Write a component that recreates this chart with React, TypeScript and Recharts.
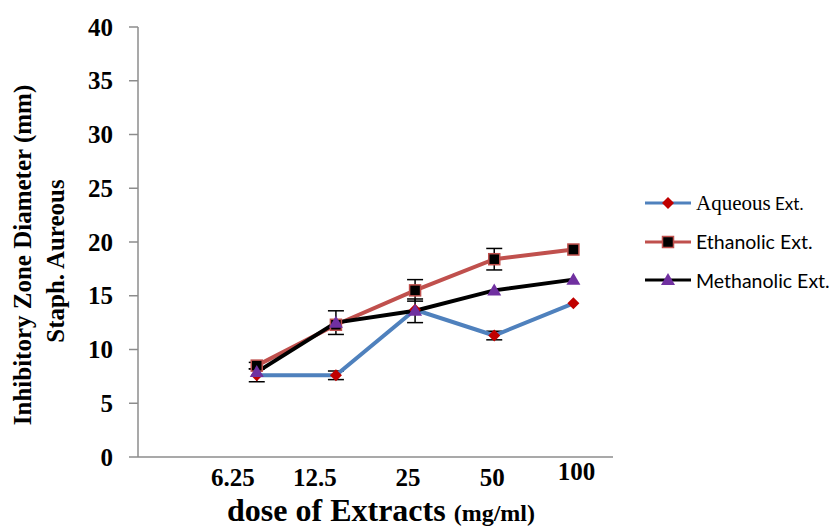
import React from "react";
import { LineChart, Line, XAxis, YAxis, ErrorBar } from "recharts";

const doses = ["", "6.25", "12.5", "25", "50", "100"];
const aqueous = [null, 7.6, 7.6, 13.7, 11.3, 14.3];
const aqueousErr = [null, 0.6, 0.4, null, 0.4, null];
const ethanolic = [null, 8.5, 12.3, 15.5, 18.4, 19.3];
const ethanolicErr = [null, 0.3, null, 1.0, 1.0, null];
const methanolic = [null, 7.9, 12.5, 13.6, 15.5, 16.5];
const methanolicErr = [null, null, 1.1, 1.1, null, null];
const yTicks = [0, 5, 10, 15, 20, 25, 30, 35, 40];

const data = doses.map((d, i) => ({
  dose: d,
  aq: aqueous[i],
  aqErr: aqueousErr[i],
  et: ethanolic[i],
  etErr: ethanolicErr[i],
  me: methanolic[i],
  meErr: methanolicErr[i],
}));

const SERIF = "'Liberation Serif', 'Times New Roman', serif";
const SANS = "Lato, 'Open Sans', sans-serif";

const Diamond = (p: any) => {
  const { cx, cy, value, index } = p;
  if (value == null || cx == null) return <g key={`d${index}`} />;
  return (
    <path key={`d${index}`} d={`M${cx},${cy - 6} L${cx + 6},${cy} L${cx},${cy + 6} L${cx - 6},${cy} Z`} fill="#C00000" />
  );
};
const Square = (p: any) => {
  const { cx, cy, value, index } = p;
  if (value == null || cx == null) return <g key={`s${index}`} />;
  return <rect key={`s${index}`} x={cx - 5.5} y={cy - 5.5} width={11} height={11} fill="#000" stroke="#C0504D" strokeWidth={1.5} />;
};
const Triangle = (p: any) => {
  const { cx, cy, value, index } = p;
  if (value == null || cx == null) return <g key={`t${index}`} />;
  return <path key={`t${index}`} d={`M${cx},${cy - 7} L${cx + 7},${cy + 5} L${cx - 7},${cy + 5} Z`} fill="#7030A0" />;
};

const tickNudge = [0, -24, -21, -7, -2, 3];
const tickLift = [0, 0, 0, 0, 0, -6];

const XTick = (p: any) => {
  const { x, y, payload, index } = p;
  return (
    <text x={x + (tickNudge[index] || 0)} y={y + (tickLift[index] || 0)} dy={21} textAnchor="middle" fontFamily={SERIF} fontWeight="bold" fontSize={25} fill="#000">
      {payload.value}
    </text>
  );
};

const YTick = (p: any) => {
  const { x, y, payload } = p;
  return (
    <text x={x - 14} y={y} dy={8.5} textAnchor="end" fontFamily={SERIF} fontWeight="bold" fontSize={25} fill="#000">
      {payload.value}
    </text>
  );
};

const YTitle = () => (
  <g fontFamily={SERIF} fontWeight="bold" fontSize={25} fill="#000">
    <text x={31} y={255} textAnchor="middle" transform="rotate(-90 31 255)">
      Inhibitory Zone Diameter (mm)
    </text>
    <text x={64} y={261} textAnchor="middle" transform="rotate(-90 64 261)">
      Staph. Aureous
    </text>
  </g>
);

const XTitle = () => (
  <text x={381} y={521} textAnchor="middle" fontFamily={SERIF} fontWeight="bold" fill="#000">
    <tspan fontSize={32}>dose of Extracts </tspan>
    <tspan fontSize={24}>(mg/ml)</tspan>
  </text>
);

const legendItems = [
  { name: "Aqueous", suffix: " Ext.", color: "#4F81BD", marker: "diamond" },
  { name: "Ethanolic Ext.", suffix: "", color: "#C0504D", marker: "square" },
  { name: "Methanolic Ext.", suffix: "", color: "#000000", marker: "triangle" },
];

const ChartLegend = () => (
  <div style={{ position: "absolute", left: 643, top: 184, width: 191, display: "flex", flexDirection: "column" }}>
    {legendItems.map((it) => (
      <div key={it.name} style={{ display: "flex", alignItems: "center", height: 38.5 }}>
        <svg width={50} height={20} style={{ display: "block", flex: "none" }}>
          <line x1={2} y1={10} x2={48} y2={10} stroke={it.color} strokeWidth={3} />
          {it.marker === "diamond" && <path d="M25,4 L31,10 L25,16 L19,10 Z" fill="#C00000" />}
          {it.marker === "square" && <rect x={19.5} y={4.5} width={11} height={11} fill="#000" stroke="#C0504D" strokeWidth={1.5} />}
          {it.marker === "triangle" && <path d="M25,3 L32,15 L18,15 Z" fill="#7030A0" />}
        </svg>
        <span style={{ marginLeft: 3, color: "#000", whiteSpace: "nowrap" }}>
          {it.marker === "diamond" ? (
            <>
              <span style={{ fontFamily: "Liberation Serif, serif", fontSize: 21 }}>{it.name}</span>
              <span style={{ fontFamily: SANS, fontSize: 17 }}>{it.suffix}</span>
            </>
          ) : (
            <span style={{ fontFamily: SANS, fontSize: 19.5 }}>{it.name}</span>
          )}
        </span>
      </div>
    ))}
  </div>
);

export default function App() {
  return (
    <div style={{ position: "absolute", left: 0, top: 0, width: 834, height: 528, background: "#fff", overflow: "hidden" }}>
      <LineChart width={834} height={528} data={data} margin={{ top: 27, right: 221, bottom: 0, left: 0 }}>
        <XAxis
          dataKey="dose"
          height={71}
          padding={{ left: 39.6, right: 39.6 }}
          tickLine={false}
          axisLine={{ stroke: "#8c8c8c", strokeWidth: 1.5 }}
          tick={<XTick />}
          interval={0}
          label={<XTitle />}
        />
        <YAxis
          width={138}
          domain={[0, 40]}
          ticks={yTicks}
          interval={0}
          tickSize={9}
          tickLine={{ stroke: "#8c8c8c", strokeWidth: 1.5 }}
          axisLine={{ stroke: "#8c8c8c", strokeWidth: 1.5 }}
          tick={<YTick />}
          label={<YTitle />}
        />
        <Line dataKey="aq" stroke="#4F81BD" strokeWidth={4} dot={Diamond} activeDot={false} isAnimationActive={false}>
          <ErrorBar dataKey="aqErr" width={8} stroke="#000" strokeWidth={1.5} direction="y" />
        </Line>
        <Line dataKey="et" stroke="#C0504D" strokeWidth={4} dot={Square} activeDot={false} isAnimationActive={false}>
          <ErrorBar dataKey="etErr" width={8} stroke="#000" strokeWidth={1.5} direction="y" />
        </Line>
        <Line dataKey="me" stroke="#000" strokeWidth={4} dot={Triangle} activeDot={false} isAnimationActive={false}>
          <ErrorBar dataKey="meErr" width={8} stroke="#000" strokeWidth={1.5} direction="y" />
        </Line>
      </LineChart>
      <ChartLegend />
    </div>
  );
}
